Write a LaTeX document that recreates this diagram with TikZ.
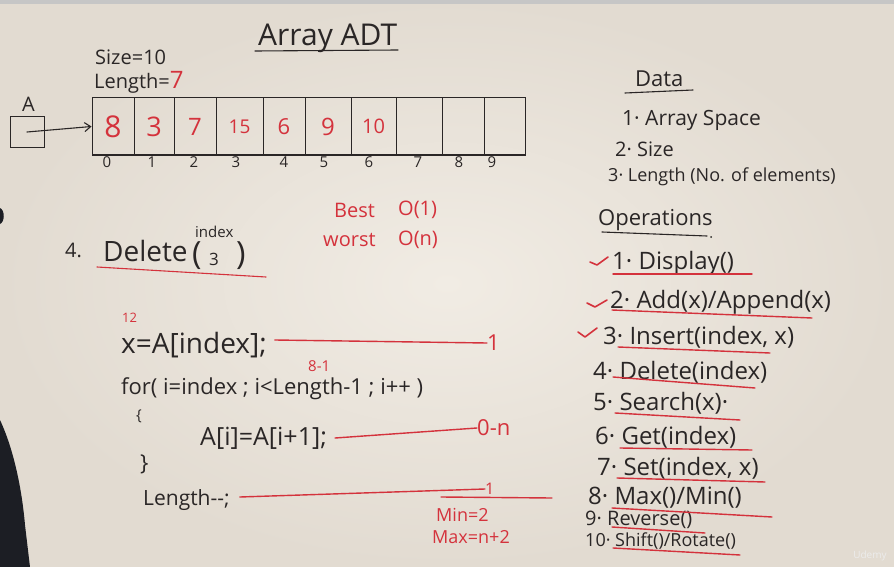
\documentclass[tikz,border=0pt]{standalone}
\usepackage{fontspec}
\setmainfont{Open Sans}
\usetikzlibrary{arrows.meta}
\definecolor{board}{RGB}{241,236,228}
\definecolor{boardedge}{RGB}{226,219,209}
\definecolor{ink}{RGB}{42,38,38}
\definecolor{redink}{RGB}{212,50,60}
\definecolor{shadow}{RGB}{28,30,36}
\newcommand\fs[1]{\fontsize{#1}{#1}\selectfont}
\begin{document}
\begin{tikzpicture}[x=1pt,y=-1pt,
  txt/.style={inner sep=0pt, anchor=west, text=ink, font=\fs{20}},
  rtxt/.style={txt, text=redink},
  cell/.style={draw=ink, line width=1pt, minimum height=57pt, inner sep=0pt, text=redink},
  idx/.style={inner sep=0pt, text=ink, font=\fs{15}},
  item/.style={txt, font=\fs{24}},
  redline/.style={draw=redink, line width=1.4pt, line cap=round},
  inkline/.style={draw=ink, line width=1.1pt, line cap=round},
  tick/.style={draw=redink, line width=1.6pt, line cap=round, line join=round}]

% board
\useasboundingbox (0,0) rectangle (894,567);
\shade[inner color=board, outer color=boardedge] (0,0) rectangle (894,567);
\fill[gray!45] (0,0) rectangle (894,4);

% title
\node[txt, font=\fs{30}] (title) at (258,38) {Array ADT};
\draw[inkline] (255,51) -- (398,50);

% size and length
\node[txt] (size) at (95,57) {Size=10};
\node[txt] (len) at (94,82) {Length=\textcolor{redink}{\fs{24}7}};

% pointer A and array
\node[txt] (lblA) at (22,104) {A};
\node[draw=ink, line width=1pt, minimum width=34pt, minimum height=31pt, inner sep=0pt] (pa) at (27,132) {};
\node[cell, minimum width=42pt, font=\fs{30}] (c0) at (113,126.5) {8};
\node[cell, minimum width=40pt, font=\fs{27}] (c1) at (154,126.5) {3};
\node[cell, minimum width=42pt, font=\fs{24}] (c2) at (195,126.5) {7};
\node[cell, minimum width=47pt, font=\fs{19}] (c3) at (239.5,126.5) {15};
\node[cell, minimum width=42pt, font=\fs{22}] (c4) at (284,126.5) {6};
\node[cell, minimum width=46pt, font=\fs{24}] (c5) at (328,126.5) {9};
\node[cell, minimum width=45pt, font=\fs{20}] (c6) at (373.5,126.5) {10};
\node[cell, minimum width=46pt] (c7) at (419,126.5) {};
\node[cell, minimum width=42pt] (c8) at (463,126.5) {};
\node[cell, minimum width=41pt] (c9) at (504.5,126.5) {};
\draw[inkline, -{Straight Barb[length=6pt,width=9pt]}] (pa.center) -- (c0.west);

\foreach \i/\x in {0/107,1/152,2/194,3/236,4/284,5/324,6/369,7/418,8/459,9/492}
  \node[idx] (i\i) at (\x,162) {\i};

% delete operation
\node[txt] (dnum) at (65,250) {4.};
\node[txt, font=\fs{28}] (del) at (103,251) {Delete};
\node[txt, font=\fs{32}] (dlp) at (192,256) {(};
\node[txt, font=\fs{15}] (dix) at (195,232) {index};
\node[txt, font=\fs{17}] (d3) at (209,259) {3};
\node[txt, font=\fs{32}] (drp) at (236,256) {)};
\draw[redline, line width=1.1pt] (97,267) -- (266,277);

\node[rtxt] (best) at (334,210) {Best};
\node[rtxt] (bestO) at (398,210) {O(1)};
\node[rtxt] (worst) at (323,240) {worst};
\node[rtxt] (worstO) at (398,240) {O(n)};

% code
\node[rtxt, font=\fs{13}] (n12) at (122,318) {12};
\node[txt, font=\fs{28}] (l1) at (121,345) {x=A[index];};
\node[rtxt, font=\fs{22}] (c1r) at (487,343) {1};
\draw[redline] (l1.east) ++(8,-5) -- (c1r.west);

\node[rtxt, font=\fs{15}] (n81) at (308,366) {8-1};
\node[txt, font=\fs{22}] (l2) at (121,389) {for( i=index ; i<Length-1 ; i++ )};
\node[txt, font=\fs{15}] (lb) at (136,416) {\{};
\node[txt, font=\fs{25}] (l3) at (200,438) {A[i]=A[i+1];};
\node[rtxt, font=\fs{22}] (c2r) at (477,428) {0-n};
\draw[redline] (l3.east) ++(8,0) -- (c2r.west);
\node[txt, font=\fs{22}] (rb) at (140,464) {\}};
\node[txt, font=\fs{21}] (l4) at (143,500) {Length\mbox{-}\mbox{-};};
\node[rtxt, font=\fs{16}] (c3r) at (485,489) {1};
\draw[redline] (l4.east) ++(10,-3) -- (c3r.west);
\draw[redline] (441,497) -- (552,498);
\node[rtxt, font=\fs{18}] (mn) at (436,515) {Min=2};
\node[rtxt, font=\fs{18}] (mx) at (432,537) {Max=n+2};

% data
\node[txt, font=\fs{22}] (data) at (635,79) {Data};
\draw[inkline] (625,93) -- (693,90);
\node[txt, font=\fs{21}] (d1) at (622,120) {1· Array Space};
\node[txt] (d2) at (615,149) {2· Size};
\node[txt, font=\fs{18}] (d3) at (608,177) {3· Length (No. of elements)};

% operations
\node[txt, font=\fs{22}] (ops) at (598,220) {Operations};
\draw[inkline] (602,232) -- (707,236);
\fill[ink] (711,237) circle (1pt);

\node[item] (o1) at (612,263) {1· Display()};
\node[item] (o2) at (610,302) {2· Add(x)/Append(x)};
\node[item] (o3) at (603,337) {3· Insert(index, x)};
\node[item] (o4) at (593,372) {4· Delete(index)};
\node[item] (o5) at (593,403) {5· Search(x)·};
\node[item] (o6) at (595,437) {6· Get(index)};
\node[item] (o7) at (597,468) {7· Set(index, x)};
\node[item] (o8) at (588,498) {8· Max()/Min()};
\node[item, font=\fs{20}] (o9) at (585,520) {9· Reverse()};
\node[item, font=\fs{18}] (o10) at (585,541) {10· Shift()/Rotate()};

\draw[redline] (613,274) -- (752,274);
\draw[redline] (612,310) -- (812,318);
\draw[redline] (618,347) -- (770,353);
\draw[redline] (613,377) -- (755,388);
\draw[redline] (615,413) -- (740,420);
\draw[redline] (620,448) -- (752,450);
\draw[redline] (617,478) -- (765,482);
\draw[redline] (612,508) -- (772,517);
\draw[redline] (612,527) -- (705,533);
\draw[redline] (613,548) -- (740,555);

\draw[tick] (590,262) -- (597,265) -- (608,257);
\draw[tick] (587,303) -- (595,307) -- (607,300);
\draw[tick] (578,332) -- (585,337) -- (597,328);

% shoulder at the lower left and a fingertip at the edge
\fill[shadow] (0,420) .. controls (14,450) and (22,490) .. (25,525) -- (30,567) -- (0,567) -- cycle;
\fill[shadow] (0,208) .. controls (5,210) and (5,222) .. (0,224) -- cycle;

% watermark
\node[inner sep=0pt, text=white!85!gray, font=\fs{10}] (wm) at (870,556) {Udemy};
\end{tikzpicture}
\end{document}
